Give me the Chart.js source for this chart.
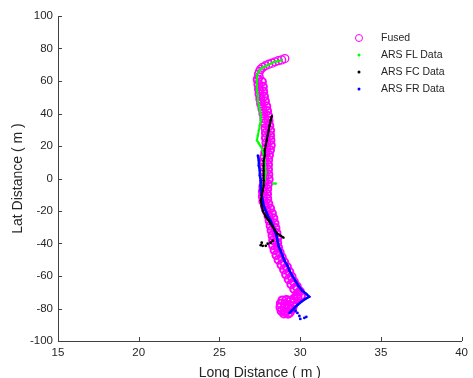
<!DOCTYPE html>
<html>
<head>
<meta charset="utf-8">
<script src="https://cdn.jsdelivr.net/npm/chart.js@4.4.0/dist/chart.umd.min.js"></script>
<style>
  html, body { margin: 0; padding: 0; background: #fff; }
  #wrap { position: relative; width: 473px; height: 378px; }
  #legend { position: absolute; left: 352px; top: 29px; font: 10.5px "Liberation Sans", Arial, sans-serif; color: #262626; }
  .row { position: relative; height: 17px; line-height: 17px; padding-left: 29px; white-space: nowrap; }
  .mk { position: absolute; left: 7px; top: 8.5px; transform: translate(-50%, -50%); border-radius: 50%; }
</style>
</head>
<body>
<div id="wrap">
  <canvas id="trackChart" width="473" height="378"></canvas>
  <div id="legend"></div>
</div>
<script>
// Tick values
const xTicks = [15, 20, 25, 30, 35, 40];
const yTicks = [-100, -80, -60, -40, -20, 0, 20, 40, 60, 80, 100];

// Fused track (circles)
const fusedX = [29.05, 28.85, 28.65, 28.45, 28.25, 28.05, 27.85, 27.68, 27.55, 27.48, 27.42, 27.46,
  27.37, 27.63, 27.41, 27.69, 27.45, 27.71, 27.48, 27.76, 27.53, 27.82, 27.58, 27.90, 27.66, 27.95,
  27.72, 28.02, 27.78, 28.04, 27.80, 28.09, 27.85, 28.14, 27.88, 28.14, 27.88, 28.16, 27.91, 28.18,
  27.90, 28.13, 27.84, 28.07, 27.77, 28.02, 27.75, 28.01, 27.75, 28.01, 27.76, 28.03, 27.78, 28.05,
  27.77, 28.00, 27.72, 27.96, 27.69, 27.95, 27.69, 27.96, 27.72, 28.03, 27.82, 28.14, 27.93, 28.25,
  28.04, 28.34, 28.11, 28.41, 28.17, 28.47, 28.23, 28.53, 28.29, 28.58, 28.33, 28.58, 28.32, 28.63,
  28.41, 28.73, 28.53, 28.86, 28.66, 29.01, 28.84, 29.18, 29.00, 29.33, 29.13, 29.47, 29.29, 29.61,
  29.45, 29.79, 29.63, 29.98, 29.82, 30.05, 29.84, 29.62, 29.40,
  28.90, 29.15, 29.40, 29.60, 28.80, 29.05, 29.30, 29.55, 28.78, 29.02, 29.27, 29.50, 28.85, 29.10,
  29.35, 29.00, 29.25];
const fusedY = [73.8, 73.0, 72.5, 71.8, 71.0, 70.3, 69.4, 68.4, 67.2, 65.8, 64.2, 62.6,
  61.0, 59.5, 58.0, 56.5, 55.0, 53.5, 52.0, 50.5, 49.0, 47.5, 46.0, 44.5, 43.0, 41.5,
  40.0, 38.5, 37.0, 35.5, 34.0, 32.5, 31.0, 29.5, 28.0, 26.5, 25.0, 23.5, 22.0, 20.5,
  19.0, 17.5, 16.0, 14.5, 13.0, 11.5, 10.0, 8.5, 7.0, 5.5, 4.0, 2.5, 1.0, -0.5,
  -2.0, -3.5, -5.0, -6.5, -8.0, -9.5, -11.0, -12.5, -14.0, -15.5, -17.0, -18.5, -20.0, -21.5,
  -23.0, -24.5, -26.0, -27.5, -29.0, -30.5, -32.0, -33.5, -35.0, -36.5, -38.0, -39.5, -41.0, -42.5,
  -44.0, -45.5, -47.0, -48.5, -50.0, -51.5, -53.0, -54.5, -56.0, -57.5, -59.0, -60.5, -62.0, -63.5,
  -65.0, -66.5, -68.0, -69.5, -71.0, -72.0, -73.2, -74.0, -75.3,
  -75.0, -74.8, -75.5, -76.5, -77.0, -77.2, -77.8, -78.5, -79.3, -79.6, -80.0, -80.5, -81.5, -82.0,
  -82.4, -83.0, -83.2];

// ARS FL (green)
const flX = [28.85, 28.60, 28.36, 28.11, 27.87, 27.62, 27.44, 27.32, 27.32, 27.32, 27.32, 27.38, 27.38, 27.44, 27.50,
  27.56, 27.56, 27.50, 27.44, 27.38, 27.32, 27.44, 27.56, 27.68, 27.74, 27.81, 27.81, 27.87, 27.81, 27.74];
const flY = [72.8, 72.2, 71.6, 70.4, 69.1, 67.9, 66.0, 63.6, 60.5, 57.4, 54.3, 51.2, 48.1, 45.1, 42.0,
  38.9, 35.8, 32.7, 29.6, 26.5, 23.5, 21.6, 19.8, 17.3, 14.2, 11.1, 8.0, 3.7, 0.0, -4.3];
const flStrayX = [28.36, 28.48];
const flStrayY = [-3.1, -3.1];

// ARS FC (black)
const fcX = [28.24, 28.17, 28.11, 28.05, 27.99, 27.93, 27.87, 27.81, 27.81, 27.74, 27.74, 27.74, 27.74, 27.74,
  27.74, 27.68, 27.62, 27.56, 27.62, 27.68, 27.87, 28.05, 28.17, 28.30, 28.42, 28.60, 28.79, 28.97];
const fcY = [38.3, 35.8, 32.7, 29.6, 26.5, 23.5, 20.4, 17.3, 14.2, 11.1, 8.0, 4.9, 1.9, -1.2,
  -4.3, -7.4, -10.5, -13.6, -16.7, -19.8, -23.5, -25.9, -27.8, -29.6, -31.5, -34.0, -35.2, -36.4];
const fcStrayX = [27.62, 27.68, 27.87, 27.99, 28.17, 28.30, 27.56];
const fcStrayY = [-39.5, -41.4, -41.4, -40.1, -39.5, -38.3, -41.0];

// ARS FR (blue)
const frX = [27.38, 27.44, 27.44, 27.50, 27.50, 27.56, 27.56, 27.56, 27.62, 27.68, 27.74, 27.87, 27.99, 28.17,
  28.30, 28.42, 28.54, 28.60, 28.66, 28.79, 28.91, 29.03, 29.22, 29.34, 29.52, 29.71, 29.89, 30.13, 30.38,
  30.56, 30.32, 30.07, 29.83, 29.64, 29.46, 29.34];
const frY = [14.2, 11.1, 8.0, 4.9, 1.9, -1.2, -4.3, -7.4, -10.5, -13.6, -16.7, -19.8, -22.8, -25.9,
  -29.0, -32.1, -35.2, -38.3, -41.4, -44.4, -47.5, -50.6, -53.7, -56.8, -59.9, -63.0, -66.0, -69.1, -71.0,
  -72.8, -74.1, -75.9, -77.8, -79.6, -81.5, -82.7];
const frStrayX = [29.83, 29.95, 30.01, 30.26, 30.38, 29.71];
const frStrayY = [-82.7, -84.6, -86.4, -85.8, -85.2, -81.5];

const toPoints = (xs, ys) => xs.map((x, i) => ({ x: x, y: ys[i] }));

function trackSet(label, xs, ys, color, width, order) {
    return {
        label: label,
        data: toPoints(xs, ys),
        showLine: true,
        borderColor: color,
        backgroundColor: color,
        borderWidth: width,
        pointRadius: 1.2,
        pointBorderWidth: 0,
        pointBackgroundColor: color,
        order: order
    };
}

function straySet(label, xs, ys, color, order) {
    return {
        label: label,
        data: toPoints(xs, ys),
        showLine: false,
        pointRadius: 1.4,
        pointBorderWidth: 0,
        pointBackgroundColor: color,
        order: order
    };
}

// MATLAB style inward tick marks
const innerTicks = {
    id: 'innerTicks',
    afterDraw(chart) {
        const { ctx, scales: { x, y } } = chart;
        ctx.save();
        ctx.strokeStyle = '#404040';
        ctx.lineWidth = 1;
        ctx.beginPath();
        xTicks.forEach(v => {
            const px = Math.round(x.getPixelForValue(v)) + 0.5;
            ctx.moveTo(px, y.bottom);
            ctx.lineTo(px, y.bottom - 4);
        });
        yTicks.forEach(v => {
            const py = Math.round(y.getPixelForValue(v)) + 0.5;
            ctx.moveTo(x.left, py);
            ctx.lineTo(x.left + 4, py);
        });
        ctx.stroke();
        ctx.restore();
    }
};

const tickFont = { family: '"Liberation Sans", Arial, sans-serif', size: 11.5 };
const titleFont = { family: '"Liberation Sans", Arial, sans-serif', size: 14, lineHeight: 1 };

const ctx = document.getElementById('trackChart').getContext('2d');
const trackChart = new Chart(ctx, {
    type: 'scatter',
    data: {
        datasets: [
            {
                label: 'Fused',
                data: toPoints(fusedX, fusedY),
                pointStyle: 'circle',
                pointRadius: 4,
                // thin rings on the sparse top arc, heavier along the dense track
                pointBorderWidth: c => (c.dataIndex < 12 ? 1.3 : 2),
                pointBorderColor: '#ff00ff',
                pointBackgroundColor: 'rgba(255,255,255,0)',
                borderColor: '#ff00ff',
                order: 5
            },
            trackSet('ARS FL Data', flX, flY, '#00ff00', 2, 3),
            trackSet('ARS FC Data', fcX, fcY, '#000000', 2, 1),
            trackSet('ARS FR Data', frX, frY, '#0000ff', 2.5, 2),
            straySet('fl stray', flStrayX, flStrayY, '#00ff00', 3),
            straySet('fc stray', fcStrayX, fcStrayY, '#000000', 1),
            straySet('fr stray', frStrayX, frStrayY, '#0000ff', 2)
        ]
    },
    options: {
        responsive: false,
        animation: false,
        devicePixelRatio: 1,
        layout: { padding: { top: 16, right: 7, left: 0, bottom: 0 } },
        plugins: { legend: { display: false }, tooltip: { enabled: false } },
        scales: {
            x: {
                type: 'linear',
                min: 15,
                max: 40,
                afterBuildTicks: s => { s.ticks = xTicks.map(v => ({ value: v })); },
                afterFit: s => { s.height = 37; },
                grid: { display: false, drawTicks: false },
                border: { display: true, color: '#404040', width: 1 },
                ticks: { font: tickFont, color: '#262626', padding: 5, maxRotation: 0 },
                title: { display: true, text: 'Long Distance ( m )', font: titleFont, color: '#262626', padding: { top: 0, bottom: -2 } }
            },
            y: {
                type: 'linear',
                min: -100,
                max: 100,
                afterBuildTicks: s => { s.ticks = yTicks.map(v => ({ value: v })); },
                afterFit: s => { s.width = 58; },
                grid: { display: false, drawTicks: false },
                border: { display: true, color: '#404040', width: 1 },
                ticks: { font: tickFont, color: '#262626', padding: 5 },
                title: { display: true, text: 'Lat Distance ( m )', font: titleFont, color: '#262626', padding: { top: 11, bottom: 0 } }
            }
        }
    },
    plugins: [innerTicks]
});

// HTML legend, built from the first four datasets
const legendEl = document.getElementById('legend');
trackChart.data.datasets.slice(0, 4).forEach((ds, i) => {
    const row = document.createElement('div');
    row.className = 'row';
    const mk = document.createElement('span');
    mk.className = 'mk';
    if (i === 0) {
        mk.style.width = '6px';
        mk.style.height = '6px';
        mk.style.border = '1px solid #ff00ff';
    } else {
        mk.style.width = '3px';
        mk.style.height = '3px';
        mk.style.background = ds.borderColor;
    }
    row.appendChild(mk);
    row.appendChild(document.createTextNode(ds.label));
    legendEl.appendChild(row);
});
</script>
</body>
</html>
